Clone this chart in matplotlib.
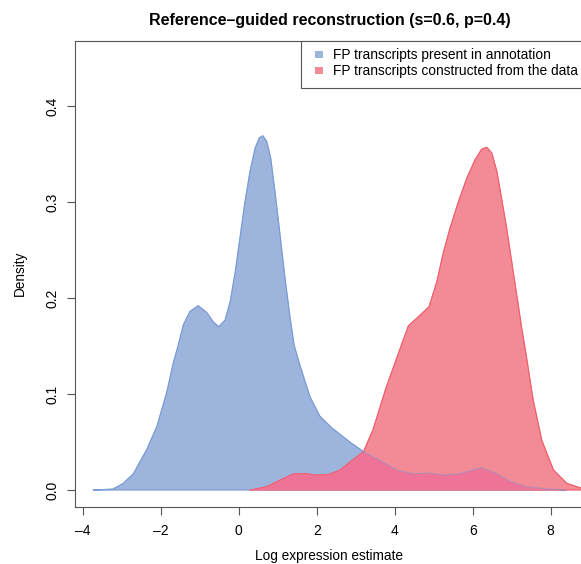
import matplotlib.pyplot as plt
from matplotlib.patches import Rectangle

plt.rcParams['font.family'] = ['Liberation Sans', 'DejaVu Sans']

# density curves
blue_x = [-3.73, -3.22, -2.96, -2.70, -2.36, -2.10, -1.85, -1.68, -1.55, -1.42,
          -1.25, -1.04, -0.82, -0.65, -0.51, -0.35, -0.22, -0.09, 0.03, 0.16,
          0.29, 0.42, 0.53, 0.62, 0.72, 0.82, 0.93, 1.06, 1.19, 1.32, 1.42,
          1.57, 1.83, 2.08, 2.38, 2.85, 3.20, 3.62, 4.05, 4.47, 4.90, 5.25,
          5.67, 6.23, 6.62, 6.96, 7.38, 7.98, 8.40]
blue_y = [0.0, 0.001, 0.007, 0.017, 0.042, 0.066, 0.101, 0.132, 0.151, 0.172,
          0.186, 0.192, 0.185, 0.175, 0.170, 0.177, 0.196, 0.227, 0.262, 0.300,
          0.332, 0.356, 0.367, 0.369, 0.363, 0.346, 0.311, 0.266, 0.220, 0.179, 0.151,
          0.130, 0.097, 0.077, 0.065, 0.050, 0.040, 0.031, 0.021, 0.017, 0.0177, 0.0156,
          0.017, 0.0236, 0.017, 0.009, 0.0035, 0.001, 0.0]

red_x = [0.29, 0.72, 1.06, 1.40, 1.74, 2.00, 2.34, 2.60, 2.85, 3.20, 3.44,
         3.79, 4.10, 4.35, 4.62, 4.88, 5.08, 5.25, 5.42, 5.63, 5.85, 6.06,
         6.23, 6.36, 6.49, 6.62, 6.74, 6.87, 7.00, 7.13, 7.26, 7.37, 7.55,
         7.77, 8.07, 8.41, 8.78, 9.00]
red_y = [0.0, 0.0035, 0.0104, 0.0167, 0.017, 0.0155, 0.0165, 0.021, 0.029, 0.040, 0.0625,
         0.108, 0.143, 0.171, 0.181, 0.191, 0.217, 0.248, 0.273, 0.300, 0.325, 0.344,
         0.355, 0.357, 0.351, 0.332, 0.304, 0.273, 0.238, 0.203, 0.168, 0.141, 0.094,
         0.052, 0.021, 0.007, 0.002, 0.0]

labels = ['FP transcripts present in annotation', 'FP transcripts constructed from the data']
x_ticks = [-4, -2, 0, 2, 4, 6, 8]
y_ticks = [0.0, 0.1, 0.2, 0.3, 0.4]

blue_fill = '#9DB5DD'
blue_edge = '#7B9BD5'
red_fill = '#F28B95'
red_edge = '#F0606E'
both_fill = '#EE7397'
frame = '#555555'

fig = plt.figure(figsize=(5.81, 5.64), dpi=100)
ax = fig.add_axes([0.1291, 0.1005, 0.8773, 0.8273])

bp = ax.fill(blue_x, blue_y, facecolor=blue_fill, edgecolor=blue_edge, lw=0.8)[0]
ax.fill(red_x, red_y, facecolor=red_fill, edgecolor=red_edge, lw=0.8)
ov = ax.fill(red_x, red_y, facecolor=both_fill, edgecolor='none')[0]
ov.set_clip_path(bp)
ax.plot(red_x, red_y, color=red_edge, lw=0.7, alpha=0.7)
ax.plot(blue_x, blue_y, color=blue_edge, lw=0.8, alpha=0.5)

ax.set_xlim(-4.197, 8.872)
ax.set_ylim(-0.018, 0.468)
ax.set_xticks(x_ticks)
ax.set_xticklabels([str(v).replace('-', '\u2013') for v in x_ticks])
ax.set_yticks(y_ticks)
ax.set_yticklabels(['%.1f' % v for v in y_ticks])
ax.tick_params(axis='both', length=5.5, width=0.8, color=frame, labelsize=10)
ax.tick_params(axis='x', pad=6.5)
ax.tick_params(axis='y', pad=6, labelrotation=90)
for lab in ax.get_yticklabels():
    lab.set_va('center')
for s in ax.spines.values():
    s.set_color(frame)
    s.set_linewidth(0.8)

# legend box in the top right corner
ax.add_patch(Rectangle((0.4434, 0.898), 0.6, 0.102, transform=ax.transAxes,
                       facecolor='white', edgecolor=frame, lw=0.8, zorder=5, clip_on=False))
for lab, col, yy in zip(labels, [blue_fill, red_fill], [0.9694, 0.9355]):
    ax.add_patch(Rectangle((0.4787 - 0.0069, yy - 0.0075), 0.0138, 0.015, transform=ax.transAxes,
                           facecolor=col, edgecolor='none', zorder=6))
    ax.text(0.5068, yy, lab, transform=ax.transAxes, fontsize=9.9, va='center', ha='left', zorder=6)

fig.text(330 / 581, 1 - 20.7 / 564, 'Reference\u2013guided reconstruction (s=0.6, p=0.4)',
         ha='center', va='center', fontsize=11.5, fontweight='bold')
fig.text(329.4 / 581, 1 - 556 / 564, 'Log expression estimate', ha='center', va='center', fontsize=9.8)
fig.text(20 / 581, 1 - 273 / 564, 'Density', ha='center', va='center', rotation=90, fontsize=9.8)

fig.savefig('out.png', dpi=100)
